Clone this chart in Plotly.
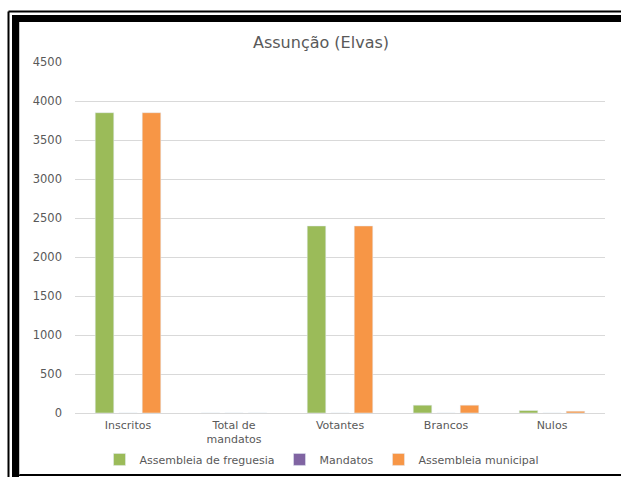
import plotly.graph_objects as go

# chart data
categories = ["Inscritos", "Total de<br>mandatos", "Votantes", "Brancos", "Nulos"]
freguesia = [3850, 0, 2398, 100, 32]
mandatos = [0, 0, 0, 0, 0]
municipal = [3850, 0, 2398, 100, 23]
y_ticks = [0, 500, 1000, 1500, 2000, 2500, 3000, 3500, 4000, 4500]

W, H = 621, 477
L, R, T, B = 75, 16, 62, 63.5

FONT = "DejaVu Sans"


def px(x):
    # pixel -> paper x
    return (x - L) / (W - L - R)


def py(y):
    # pixel -> paper y
    return (H - B - y) / (H - T - B)


fig = go.Figure()
fig.add_trace(go.Bar(x=categories, y=freguesia, name="Assembleia de freguesia",
                     marker_color="#9BBB59"))
fig.add_trace(go.Bar(x=categories, y=mandatos, name="Mandatos",
                     marker_color="#8064A2"))
fig.add_trace(go.Bar(x=categories, y=municipal, name="Assembleia municipal",
                     marker_color="#F79646"))

# the black frame round the chart
frame = [
    dict(type="line", x0=px(8.5), x1=px(W + 5), y0=py(11.5), y1=py(11.5), width=2),
    dict(type="line", x0=px(8.5), x1=px(8.5), y0=py(11.5), y1=py(H + 5), width=2),
    dict(type="rect", x0=px(12), x1=px(W + 5), y0=py(15), y1=py(22), width=0),
    dict(type="rect", x0=px(12), x1=px(19), y0=py(15), y1=py(H + 5), width=0),
    dict(type="line", x0=px(19), x1=px(W + 5), y0=py(475.5), y1=py(475.5), width=2),
]
shapes = []
for f in frame:
    s = dict(type=f["type"], xref="paper", yref="paper",
             x0=f["x0"], x1=f["x1"], y0=f["y0"], y1=f["y1"],
             line=dict(color="black", width=f["width"]))
    if f["type"] == "rect":
        s["fillcolor"] = "black"
    shapes.append(s)
# faint inner shadow line
shapes.append(dict(type="line", xref="paper", yref="paper",
                   x0=px(19.5), x1=px(19.5), y0=py(22), y1=py(475),
                   line=dict(color="#C8C8C8", width=1)))

fig.update_layout(
    width=W, height=H,
    margin=dict(l=L, r=R, t=T, b=B, autoexpand=False),
    paper_bgcolor="white", plot_bgcolor="white",
    font=dict(family=FONT, color="#595959", size=11),
    title=dict(text="Assunção (Elvas)", xref="container", x=321 / W,
               xanchor="center", y=1 - 42 / H, yanchor="middle",
               font=dict(size=16, color="#595959")),
    barmode="group", bargap=0.335, bargroupgap=0.21,
    xaxis=dict(showgrid=False, showline=False, ticks="", tickfont=dict(size=11),
               ticklabelstandoff=4, fixedrange=True),
    yaxis=dict(range=[0, 4500], tickvals=y_ticks, showgrid=True,
               gridcolor="#D9D9D9", gridwidth=1, zeroline=True,
               zerolinecolor="#D9D9D9", zerolinewidth=1, ticks="",
               tickfont=dict(size=11.5), ticklabelstandoff=12),
    legend=dict(orientation="h", x=px(322), xanchor="center", y=py(460),
                yanchor="middle", font=dict(size=11), itemwidth=30,
                traceorder="normal"),
    shapes=shapes,
)

# drop the page's default body margin so the figure fills the window exactly
fig.write_html("out.html", config={"displayModeBar": False},
               post_script="document.body.style.margin='0';"
                           "document.body.style.overflow='hidden';")
